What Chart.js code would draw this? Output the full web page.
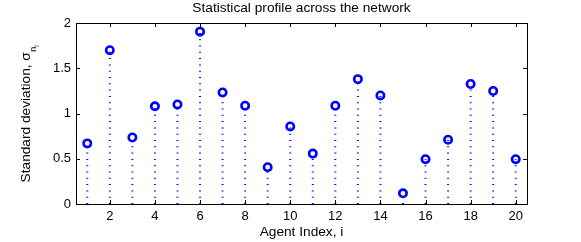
<!DOCTYPE html>
<html>
<head>
<meta charset="utf-8">
<script src="https://cdn.jsdelivr.net/npm/chart.js@4/dist/chart.umd.min.js"></script>
<style>
  html, body { margin: 0; padding: 0; background: #fff; }
</style>
</head>
<body>
<canvas id="myChart" width="581" height="242"></canvas>
<script>
// agent index 1..20 and the std dev of each
const agents = [1, 2, 3, 4, 5, 6, 7, 8, 9, 10, 11, 12, 13, 14, 15, 16, 17, 18, 19, 20];
const sigma = [0.67, 1.70, 0.735, 1.08, 1.10, 1.905, 1.233, 1.086, 0.407, 0.857,
               0.557, 1.086, 1.38, 1.20, 0.118, 0.495, 0.71, 1.326, 1.249, 0.495];
const xTicks = [2, 4, 6, 8, 10, 12, 14, 16, 18, 20];
const yTicks = [0, 0.5, 1, 1.5, 2];

const FONT = "'Liberation Sans', Arial, sans-serif";
const BLUE = '#0000ff';
const LBL = 13.7;

// stems: 0 -> value, broken with a null between agents
let stems = [];
agents.forEach((a, i) => {
  stems.push({ x: a, y: 0 });
  stems.push({ x: a, y: sigma[i] });
  stems.push({ x: a, y: null });
});

let points = agents.map((a, i) => {
  return { x: a, y: sigma[i] };
});

// box round the axes + inward tick marks, matlab style
const boxPlugin = {
  id: 'box',
  afterDraw(chart) {
    const c = chart.ctx;
    const a = chart.chartArea;
    const xs = chart.scales.x, ys = chart.scales.y;
    c.save();
    c.strokeStyle = '#000';
    c.lineWidth = 1;
    c.beginPath();
    xTicks.forEach((t) => {
      let px = Math.round(xs.getPixelForValue(t)) + 0.5;
      c.moveTo(px, a.bottom); c.lineTo(px, a.bottom - 4);
      c.moveTo(px, a.top); c.lineTo(px, a.top + 4);
    });
    yTicks.forEach((t) => {
      let py = Math.round(ys.getPixelForValue(t)) + 0.5;
      c.moveTo(a.left, py); c.lineTo(a.left + 4, py);
      c.moveTo(a.right, py); c.lineTo(a.right - 4, py);
    });
    c.stroke();
    c.strokeRect(Math.round(a.left) + 0.5, Math.round(a.top) + 0.5,
                 Math.round(a.right - a.left), Math.round(a.bottom - a.top));

    // y label with nested subscript
    c.fillStyle = '#000';
    c.textBaseline = 'alphabetic';
    c.textAlign = 'left';
    const main = 'Standard deviation, \u03c3';
    c.font = LBL + 'px ' + FONT;
    const w1 = c.measureText(main).width;
    c.font = '9px ' + FONT;
    const w2 = c.measureText('n').width;
    c.font = '7px ' + FONT;
    const w3 = c.measureText('i').width;
    const total = w1 + w2 + w3 + 1;
    c.translate(30, (a.top + a.bottom) / 2);
    c.rotate(-Math.PI / 2);
    let x0 = -total / 2;
    c.font = LBL + 'px ' + FONT;
    c.fillText(main, x0, 0);
    c.font = '9px ' + FONT;
    c.fillText('n', x0 + w1 + 0.5, 6);
    c.font = '7px ' + FONT;
    c.fillText('i', x0 + w1 + w2 + 0.5, 9);
    c.restore();
  }
};

new Chart(document.getElementById('myChart'), {
  type: 'scatter',
  data: {
    datasets: [{
      type: 'line',
      data: stems,
      borderColor: BLUE,
      borderWidth: 2,
      borderDash: [1, 5.3],
      pointRadius: 0,
      spanGaps: false,
      fill: false
    }, {
      data: points,
      borderColor: BLUE,
      backgroundColor: 'rgba(0,0,0,0)',
      borderWidth: 2.6,
      pointRadius: 3.7,
      pointHoverRadius: 3.7
    }]
  },
  options: {
    responsive: false,
    animation: false,
    events: [],
    layout: { padding: { left: 0, right: 54, top: 0, bottom: 0 } },
    plugins: {
      legend: { display: false },
      tooltip: { enabled: false },
      title: {
        display: true,
        fullSize: false,
        text: 'Statistical profile across the network',
        color: '#000',
        font: { family: FONT, size: LBL, weight: 'normal', lineHeight: 1.2 },
        padding: { top: 0, bottom: 6.6 }
      }
    },
    scales: {
      x: {
        type: 'linear',
        min: 0.5,
        max: 20.5,
        grid: { display: false, drawTicks: false, tickLength: 0 },
        border: { display: false },
        afterBuildTicks: (s) => { s.ticks = xTicks.map((v) => ({ value: v })); },
        afterFit: (s) => { s.height = 38; },
        ticks: { color: '#000', font: { family: FONT, size: 13 }, padding: 5, maxRotation: 0 },
        title: {
          display: true,
          text: 'Agent Index, i',
          color: '#000',
          font: { family: FONT, size: LBL },
          padding: { top: 0, bottom: 2 }
        }
      },
      y: {
        min: 0,
        max: 2,
        grid: { display: false, drawTicks: false, tickLength: 0 },
        border: { display: false },
        afterBuildTicks: (s) => { s.ticks = yTicks.map((v) => ({ value: v })); },
        afterFit: (s) => { s.width = 76; },
        ticks: {
          color: '#000',
          font: { family: FONT, size: 13 },
          padding: 5,
          callback: (v) => String(v)
        }
      }
    }
  },
  plugins: [boxPlugin]
});
</script>
</body>
</html>
